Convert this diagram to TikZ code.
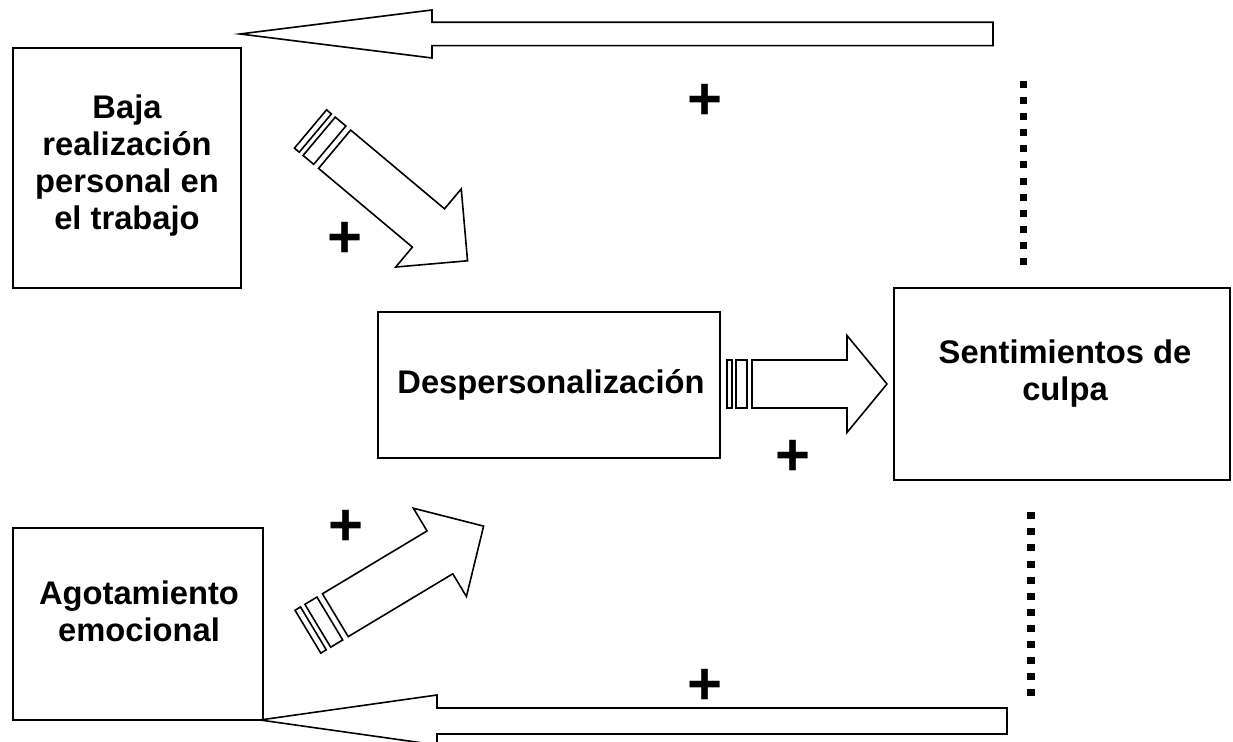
\documentclass[tikz,border=0pt]{standalone}
\usepackage{fontspec}
\setmainfont{Liberation Sans}
\tikzset{
  box/.style={draw, line width=0.95pt, inner sep=0pt},
  lbl/.style={font=\bfseries\fontsize{16.35}{18.5}\selectfont, align=center, inner sep=0pt},
  plus/.style={font=\bfseries\fontsize{30}{30}\selectfont, inner sep=0pt},
  blockarrow/.style={draw, line width=0.8pt, fill=white, line join=miter},
  dots/.style={line width=3.6pt, dash pattern=on 3.5pt off 4.55pt},
  pics/striped/.style n args={5}{code={
    \path[blockarrow] (0,-#4) rectangle (5*#1,#4);
    \path[blockarrow] (9*#1,-#4) rectangle (20*#1,#4);
    \path[blockarrow] (25*#1,-#4) -- (#2,-#4) -- (#2,-#5) -- (#3,0) -- (#2,#5) -- (#2,#4) -- (25*#1,#4) -- cycle;
  }}
}
\begin{document}
\begin{tikzpicture}[x=0.5pt, y=-0.5pt]
\useasboundingbox (0,0) rectangle (1233,742);
\clip (0,0) rectangle (1233,742);

% boxes
\node[box, minimum width=114pt, minimum height=120pt] (baja) at (127,168) {};
\node[box, minimum width=125pt, minimum height=96pt] (agot) at (138,624) {};
\node[box, minimum width=168pt, minimum height=96pt] (sent) at (1062,384) {};
\node[box, minimum width=171pt, minimum height=73pt] (desp) at (549,385) {};

% texts
\node[lbl] (tbaja) at (127,166) {Baja\\realización\\personal en\\el trabajo};
\node[lbl] (tagot) at (139,611) {Agotamiento\\emocional};
\node[lbl] (tsent) at (1065,374) {Sentimientos de\\culpa};
\node[lbl] (tdesp) at (551,385) {Despersonalización};

% striped arrows
\pic[rotate=-40] at (310.5,129) {striped={1.26}{154}{205}{25}{51}};
\pic[rotate=31] at (307.9,631.7) {striped={1.28}{154}{205}{25}{51.5}};
\pic at (727,384) {striped={1}{120}{160}{24}{48.5}};

% long back arrows
\coordinate (topR) at (993,34);
\coordinate (botR) at (1007,721);
\draw[blockarrow] (993,22.3) -- (432,22.3) -- (432,10) -- (240,34) -- (432,58) -- (432,45.7) -- (993,45.7) -- cycle;
\draw[blockarrow] (1007,708) -- (437,708) -- (437,695) -- (260,720) -- (437,745) -- (437,734) -- (1007,734) -- cycle;

% dotted lines
\coordinate (d1a) at (1023.5,81);
\coordinate (d1b) at (1023.5,265);
\coordinate (d2a) at (1031,512.3);
\coordinate (d2b) at (1031,696.5);
\draw[dots] (d1a) -- (d1b);
\draw[dots] (d2a) -- (d2b);

% plus signs
\node[plus] (p1) at (705,102) {+};
\node[plus] (p2) at (345,240) {+};
\node[plus] (p3) at (793,458) {+};
\node[plus] (p4) at (345.7,527.7) {+};
\node[plus] (p5) at (705,687) {+};
\end{tikzpicture}
\end{document}
